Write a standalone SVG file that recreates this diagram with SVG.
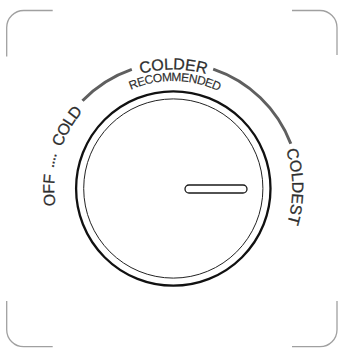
<svg xmlns="http://www.w3.org/2000/svg" xmlns:xlink="http://www.w3.org/1999/xlink" width="338" height="349" viewBox="0 0 338 349">
<style>
.frame{fill:none;stroke:#a0a0a0;stroke-width:1.3}
.scale{fill:none;stroke:#5f5f5f;stroke-width:3}
.lbl{font-family:"Liberation Sans",Arial,sans-serif;font-size:16px;fill:#2e2e2e;stroke:#2e2e2e;stroke-width:0.25}
.sub{font-family:"Liberation Sans",Arial,sans-serif;font-size:12px;fill:#2e2e2e;stroke:#2e2e2e;stroke-width:0.15;letter-spacing:-0.6px}
</style>
<defs>
<path id="big" d="M 173.3 307.5 A 119 119 0 0 1 54.3 188.5 A 119 119 0 0 1 292.3 188.5 A 119 119 0 0 1 173.3 307.5"/>
<path id="small" d="M 173.3 296 A 107.5 107.5 0 0 1 65.8 188.5 A 107.5 107.5 0 0 1 280.8 188.5"/>
</defs>
<g id="frame">
<path class="frame" d="M 6.7 56.5 V 27.5 A 17 17 0 0 1 23.7 10.5 H 52.7"/>
<path class="frame" d="M 292 10.5 H 320 A 17 17 0 0 1 337 27.5 V 55"/>
<path class="frame" d="M 6.7 301 V 329.7 A 17 17 0 0 0 23.7 346.7 H 52.7"/>
<path class="frame" d="M 292 346.7 H 320 A 17 17 0 0 0 337 329.7 V 301"/>
</g>
<g id="connectors">
<path class="scale" d="M 82.5 100.8 A 126 126 0 0 1 131.8 69.4"/>
<path class="scale" d="M 213.2 69.1 A 126 126 0 0 1 290.8 143.8"/>
</g>
<g id="labels">
<text class="lbl" text-anchor="middle" letter-spacing="-0.4"><textPath xlink:href="#big" href="#big" startOffset="185">OFF</textPath></text>
<text class="lbl" text-anchor="middle" letter-spacing="-1" dy="-2.5"><textPath xlink:href="#big" href="#big" startOffset="213.5">....</textPath></text>
<text class="lbl" text-anchor="middle" letter-spacing="-0.8"><textPath xlink:href="#big" href="#big" startOffset="249.5">COLD</textPath></text>
<text class="lbl" text-anchor="middle" letter-spacing="-0.1"><textPath xlink:href="#big" href="#big" startOffset="373.9">COLDER</textPath></text>
<text class="lbl" text-anchor="middle" letter-spacing="-0.2"><textPath xlink:href="#big" href="#big" startOffset="558.6">COLDEST</textPath></text>
<text class="sub" text-anchor="middle"><textPath xlink:href="#small" href="#small" startOffset="338.9">RECOMMENDED</textPath></text>
</g>
<g id="knob">
<circle cx="173.3" cy="188.5" r="97.2" fill="#fff" stroke="#111" stroke-width="2.3"/>
<circle cx="173.3" cy="188.5" r="89.6" fill="none" stroke="#222" stroke-width="1"/>
<rect x="185" y="185" width="62" height="8" rx="4" fill="#fff" stroke="#1a1a1a" stroke-width="1.3"/>
</g>
</svg>
